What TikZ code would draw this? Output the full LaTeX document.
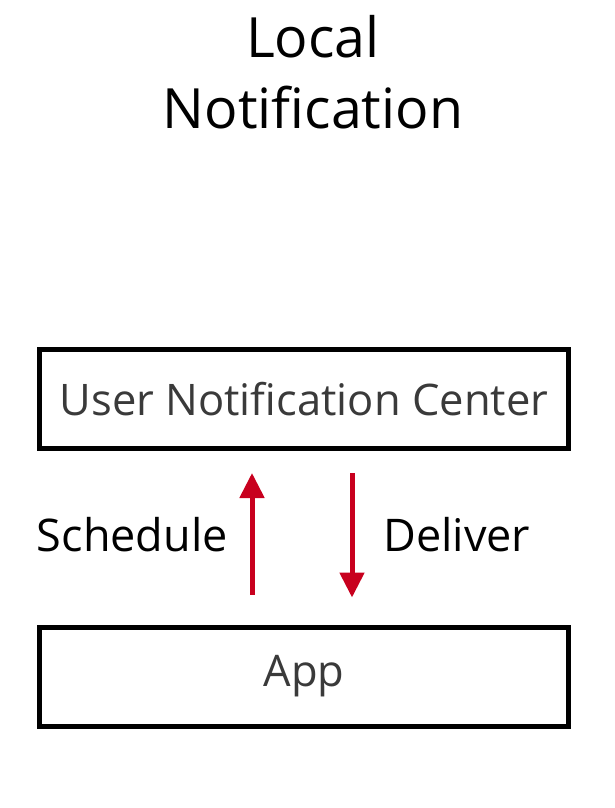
\documentclass[tikz,border=0pt]{standalone}
\usepackage{fontspec}
\setmainfont{Open Sans}
\usetikzlibrary{arrows.meta,positioning,calc}
\definecolor{cArrow}{HTML}{C8001E}
\definecolor{cLabel}{HTML}{3A3A3A}

\begin{document}
\begin{tikzpicture}[
    x=1pt, y=-1pt,
    box/.style={draw=black, line width=5pt, minimum width=529pt, minimum height=99pt, inner sep=0pt, font=\fontsize{43.5}{50}\selectfont, text=cLabel},
    arr/.style={-{Triangle[length=25pt, width=24pt]}, line width=5pt, draw=cArrow},
    lbl/.style={font=\fontsize{45}{50}\selectfont, inner sep=0pt}
]
\useasboundingbox (0,0) rectangle (614,808);

\node[font=\fontsize{55.5}{71}\selectfont, align=center] (title) at (313,72) {Local\\Notification};

\node[box] (unc) at (304,399) {User Notification Center};
\node[box] (app) at (304,676.5) {App};

\draw[arr, shorten <=30pt, shorten >=22pt] ([xshift=-52pt]app.north) -- ([xshift=-52pt]unc.south);
\draw[arr, shorten <=22pt, shorten >=27pt] ([xshift=48pt]unc.south) -- ([xshift=48pt]app.north);

\node[lbl, anchor=east] (sched) at (228,535) {Schedule};
\node[lbl, anchor=west] (deliv) at (383,535) {Deliver};

\end{tikzpicture}
\end{document}
